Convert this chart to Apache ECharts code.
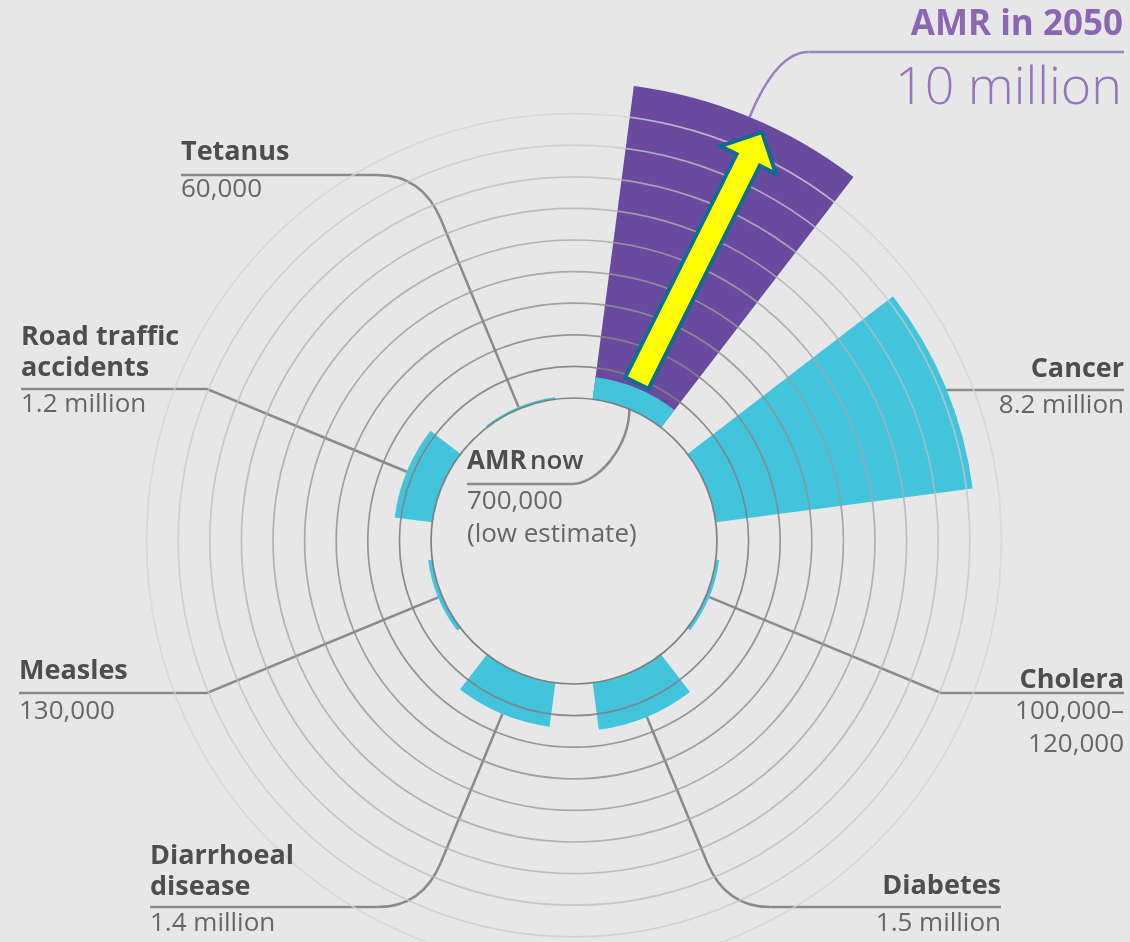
<!DOCTYPE html>
<html>
<head>
<meta charset="utf-8">
<style>
  html, body { margin: 0; padding: 0; background: #e7e7e7; }
  #chart { width: 1130px; height: 942px; }
</style>
<script src="https://cdn.jsdelivr.net/npm/echarts@6/dist/echarts.min.js"></script>
</head>
<body>
<div id="chart"></div>
<script>
// Deaths per year attributable to each cause, in millions
const causes = ['AMR', 'Cancer', 'Cholera', 'Diabetes', 'Diarrhoeal disease', 'Measles', 'Road traffic accidents', 'Tetanus'];
const deathsNow = [0.7, 8.2, 0.11, 1.5, 1.4, 0.13, 1.2, 0.06];
const amrIn2050 = [10, null, null, null, null, null, null, null];

// Radial scale: one ring per million deaths
const radiusMax = 10;
const ringStep = 1;

// Callout wording, index-aligned with causes
const causeNames = [['AMR now'], ['Cancer'], ['Cholera'], ['Diabetes'], ['Diarrhoeal', 'disease'], ['Measles'], ['Road traffic', 'accidents'], ['Tetanus']];
const causeFigures = [['700,000', '(low estimate)'], ['8.2 million'], ['100,000–', '120,000'], ['1.5 million'], ['1.4 million'], ['130,000'], ['1.2 million'], ['60,000']];
const futureTitle = 'AMR in 2050';
const futureFigure = '10 million';

// ---- layout ----
const CX = 574, CY = 541, R_IN = 143, R_OUT = 459;
const rOf = v => R_IN + (v / radiusMax) * (R_OUT - R_IN);
const angOf = i => (360 / causes.length) * (i + 0.5) * Math.PI / 180;
const pt = (r, a) => [CX + r * Math.sin(a), CY - r * Math.cos(a)];

const callouts = [
  null,
  { side: 'right', x: 1124, nameY: [369], lineY: 390, figY: [406], kind: 'corner' },
  { side: 'right', x: 1124, nameY: [680], lineY: 693, figY: [712, 745], kind: 'corner' },
  { side: 'right', x: 1001, nameY: [886], lineY: 907, figY: [924], kind: 'curve', bend: 48 },
  { side: 'left', x: 150, nameY: [856, 887], lineY: 907, figY: [924], kind: 'curve', bend: 48 },
  { side: 'left', x: 19, nameY: [671], lineY: 693, figY: [712], kind: 'corner' },
  { side: 'left', x: 21, nameY: [337, 368], lineY: 389, figY: [405], kind: 'corner' },
  { side: 'left', x: 181, nameY: [152], lineY: 175, figY: [190], kind: 'curve', bend: 48 }
];

const FONT = '"Open Sans", "Noto Sans", sans-serif';
const NAME_COL = '#4e4e4e';
const FIG_COL = '#666666';
const LEAD_COL = '#8a8a8a';
const CYAN = '#42c4dd';
const PURPLE = '#694a9e';
const PURPLE_TEXT = '#8b67b3';

// Rings fade from mid grey at the hub to near background at the rim
const ringColours = [
  'rgba(120,120,120,0.92)', 'rgba(128,128,128,0.88)', 'rgba(136,136,136,0.86)',
  'rgba(145,145,145,0.84)', 'rgba(155,155,155,0.82)', 'rgba(165,165,165,0.8)',
  'rgba(176,176,176,0.78)', 'rgba(188,188,188,0.76)', 'rgba(200,200,200,0.76)',
  'rgba(212,212,212,0.76)', 'rgba(0,0,0,0)'
];

function textEl(str, x, y, font, fill, align) {
  return {
    type: 'text', z: 20,
    style: { text: str, x: x, y: y, font: font, fill: fill,
             align: align, verticalAlign: 'middle',
             textAlign: align, textVerticalAlign: 'middle' }
  };
}
function lineEl(points, colour, width) {
  return { type: 'polyline', z: -2, shape: { points: points },
           style: { stroke: colour || LEAD_COL, lineWidth: width || 2.5, fill: null } };
}
function curveEl(p0, c, p1, colour, width) {
  return { type: 'bezierCurve', z: -2,
           shape: { x1: p0[0], y1: p0[1], cpx1: c[0], cpy1: c[1], x2: p1[0], y2: p1[1] },
           style: { stroke: colour || LEAD_COL, lineWidth: width || 2.5, fill: null } };
}

const graphics = [];

// Callouts for each cause
callouts.forEach((c, i) => {
  if (!c) return;
  const a = angOf(i);
  const barEnd = pt(rOf(deathsNow[i]), a);
  const tCorner = (CY - c.lineY) / Math.cos(a);
  const corner = pt(tCorner, a);
  corner[1] = c.lineY;
  const far = [c.x, c.lineY];
  const dir = c.side === 'right' ? 1 : -1;
  if (c.kind === 'corner') {
    if (tCorner > rOf(deathsNow[i])) graphics.push(lineEl([barEnd, corner, far]));
    else graphics.push(lineEl([corner, far]));
  } else {
    const p1 = pt(tCorner - c.bend, a);
    const q = [corner[0] + dir * c.bend * 0.94, c.lineY];
    graphics.push(lineEl([barEnd, p1]));
    graphics.push(curveEl(p1, corner, q));
    graphics.push(lineEl([q, far]));
  }
  const align = c.side === 'right' ? 'right' : 'left';
  causeNames[i].forEach((s, k) => graphics.push(textEl(s, c.x, c.nameY[k], 'bold 27px ' + FONT, NAME_COL, align)));
  causeFigures[i].forEach((s, k) => graphics.push(textEl(s, c.x, c.figY[k], '26px ' + FONT, FIG_COL, align)));
});

// "AMR now" callout inside the hub
(function () {
  const a = angOf(0);
  const inner = pt(R_IN + 2, a);
  graphics.push(lineEl([[467, 484], [572, 484]]));
  graphics.push({ type: 'bezierCurve', z: -2,
    shape: { x1: 572, y1: 484, cpx1: 597, cpy1: 484, cpx2: inner[0], cpy2: 448, x2: inner[0], y2: inner[1] },
    style: { stroke: LEAD_COL, lineWidth: 2.5, fill: null } });
  graphics.push({
    type: 'text', z: 20,
    style: {
      text: '{b|AMR} {m|now}', x: 467, y: 462, align: 'left', verticalAlign: 'middle',
      textAlign: 'left', textVerticalAlign: 'middle',
      rich: {
        b: { font: 'bold 26px ' + FONT, fill: NAME_COL },
        m: { font: '600 26px ' + FONT, fill: NAME_COL }
      }
    }
  });
  graphics.push(textEl(causeFigures[0][0], 467, 502, '26px ' + FONT, FIG_COL, 'left'));
  graphics.push(textEl(causeFigures[0][1], 467, 535, '26px ' + FONT, FIG_COL, 'left'));
})();

// "AMR in 2050" callout
(function () {
  const a = angOf(0);
  const lineY = 52;
  const barEnd = pt(rOf(amrIn2050[0]), a);
  const tCorner = (CY - lineY) / Math.cos(a);
  const corner = pt(tCorner, a);
  const q = [corner[0] + 32, lineY];
  graphics.push(curveEl(barEnd, [corner[0], lineY], q, '#9a7fc2', 2.5));
  graphics.push(lineEl([q, [1124, lineY]], '#9a7fc2', 2.5));
  graphics.push(textEl(futureTitle, 1123, 25, 'bold 35px ' + FONT, PURPLE_TEXT, 'right'));
  graphics.push(textEl(futureFigure, 1122, 89, '300 52px ' + FONT, '#9575bd', 'right'));
})();

// Growth arrow across the 2050 sector
(function () {
  const tail = pt(170, 21.7 * Math.PI / 180);
  const tip = pt(450, 24.7 * Math.PI / 180);
  const dx = tip[0] - tail[0], dy = tip[1] - tail[1];
  const L = Math.hypot(dx, dy);
  const u = [dx / L, dy / L], n = [-u[1], u[0]];
  const w = 13, hw = 31, hl = 31;
  const P = (s, t) => [tail[0] + u[0] * s + n[0] * t, tail[1] + u[1] * s + n[1] * t];
  graphics.push({
    type: 'polygon', z: 30,
    shape: { points: [P(0, -w), P(L - hl, -w), P(L - hl, -hw), P(L, 0), P(L - hl, hw), P(L - hl, w), P(0, w)] },
    style: { fill: '#ffff00', stroke: '#0e6c95', lineWidth: 4, lineJoin: 'miter' }
  });
})();

const chart = echarts.init(document.getElementById('chart'), null, { renderer: 'canvas' });
chart.setOption({
  backgroundColor: '#e7e7e7',
  animation: false,
  polar: { center: [CX, CY], radius: [R_IN, R_OUT] },
  angleAxis: {
    type: 'category', data: causes, startAngle: 90, clockwise: true,
    axisLine: { show: false }, axisTick: { show: false }, axisLabel: { show: false },
    splitLine: { show: false }
  },
  radiusAxis: {
    type: 'value', min: 0, max: radiusMax, interval: ringStep,
    axisLine: { show: false }, axisTick: { show: false }, axisLabel: { show: false },
    splitLine: { show: true, lineStyle: { color: ringColours, width: 1.7 } }
  },
  series: [
    {
      name: 'AMR in 2050', type: 'bar', coordinateSystem: 'polar', data: amrIn2050, z: -1,
      barGap: '-100%', barCategoryGap: '33.3%', itemStyle: { color: PURPLE }, silent: true
    },
    {
      name: 'Deaths now', type: 'bar', coordinateSystem: 'polar', data: deathsNow, z: -1,
      barGap: '-100%', barCategoryGap: '33.3%', itemStyle: { color: CYAN }, silent: true
    }
  ],
  graphic: { elements: graphics }
});
</script>
</body>
</html>
